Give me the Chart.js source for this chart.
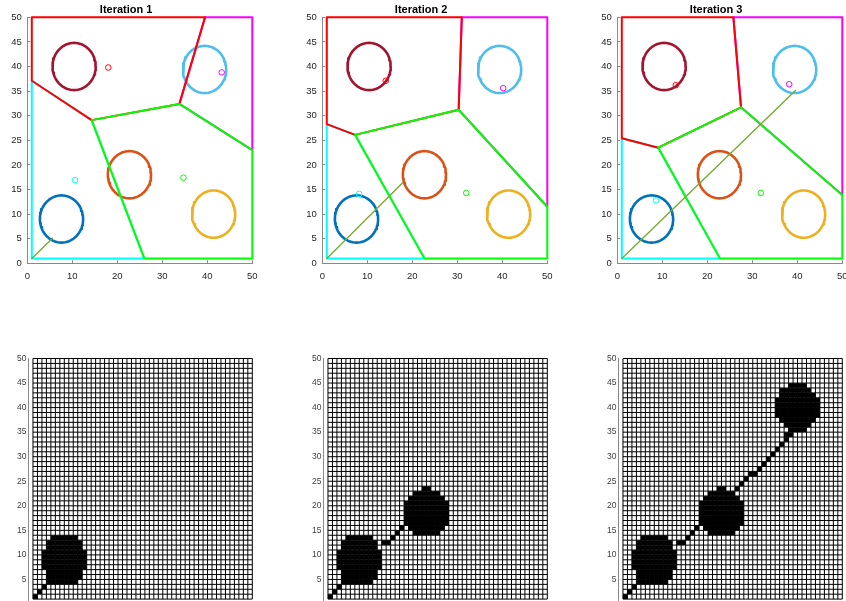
<!DOCTYPE html>
<html>
<head>
<meta charset="utf-8">
<script src="https://cdn.jsdelivr.net/npm/chart.js@4.4.1/dist/chart.umd.min.js"></script>
<style>
  html, body { margin: 0; padding: 0; background: #fff; overflow: hidden; width: 846px; height: 601px; }
  canvas { position: absolute; }
</style>
</head>
<body>
<canvas id="top0" width="280" height="290" style="left:0px;top:0px"></canvas>
<canvas id="top1" width="280" height="290" style="left:295px;top:0px"></canvas>
<canvas id="top2" width="280" height="290" style="left:590px;top:0px"></canvas>
<canvas id="map0" width="280" height="280" style="left:0px;top:340px"></canvas>
<canvas id="map1" width="280" height="280" style="left:295px;top:340px"></canvas>
<canvas id="map2" width="280" height="280" style="left:590px;top:340px"></canvas>
<script>
// ---- data ----
const iterTitles = ['Iteration 1', 'Iteration 2', 'Iteration 3'];

// obstacles (circles)
const obstacleX = [7.6, 22.7, 41.4, 10.4, 39.4];
const obstacleY = [9.0, 18.0, 10.0, 40.0, 39.4];
const obstacleR = [4.8, 4.8, 4.8, 4.8, 4.8];
const obstacleColors = ['#0072BD', '#D95319', '#EDB120', '#A2142F', '#4DBEEE'];

// region outlines per iteration
const regionCyan = [
    [[1, 1], [26, 1], [14.3, 29.1], [1, 37.1], [1, 1]],
    [[1, 1], [22.7, 1], [7.3, 26.1], [1, 28.3], [1, 1]],
    [[1, 1], [22.8, 1], [9.1, 23.5], [1, 25.4], [1, 1]]
];
const regionRed = [
    [[1, 37.1], [1, 50], [39.5, 50], [33.8, 32.4], [14.3, 29.1], [1, 37.1]],
    [[1, 28.3], [1, 50], [31, 50], [30.3, 31.2], [7.3, 26.1], [1, 28.3]],
    [[1, 25.4], [1, 50], [25.8, 50], [27.5, 31.7], [9.1, 23.5], [1, 25.4]]
];
const regionMagenta = [
    [[39.5, 50], [50, 50], [50, 23], [33.8, 32.4], [39.5, 50]],
    [[31, 50], [50, 50], [50, 11.5], [30.3, 31.2], [31, 50]],
    [[25.8, 50], [50, 50], [50, 13.9], [27.5, 31.7], [25.8, 50]]
];
const regionGreen = [
    [[14.3, 29.1], [33.8, 32.4], [50, 23], [50, 1], [26, 1], [14.3, 29.1]],
    [[7.3, 26.1], [30.3, 31.2], [50, 11.5], [50, 1], [22.7, 1], [7.3, 26.1]],
    [[9.1, 23.5], [27.5, 31.7], [50, 13.9], [50, 1], [22.8, 1], [9.1, 23.5]]
];

// centroid markers: red, magenta, cyan, green
const centroidX = [[18.0, 43.2, 10.6, 34.7], [14.1, 40.2, 8.2, 32.0], [13.0, 38.2, 8.6, 31.9]];
const centroidY = [[39.8, 38.8, 16.9, 17.4], [37.1, 35.6, 14.1, 14.3], [36.2, 36.4, 12.8, 14.3]];
const centroidColors = ['#FF0000', '#FF00FF', '#00FFFF', '#00FF00'];

// planned path
const pathStart = [1, 1];
const pathEnds = [[5.6, 5.1], [17.8, 16.3], [39.6, 35.1]];

// occupancy grid, runs of filled cells: [row, firstCol, lastCol]
const startCells = [[1, 1, 1], [2, 2, 2], [3, 3, 3], [4, 4, 4]];
const blobA = [[4, 5, 10], [5, 4, 11], [6, 4, 11], [7, 3, 12], [8, 3, 12], [9, 3, 12], [10, 3, 12], [11, 4, 11], [12, 4, 11], [13, 5, 10]];
const linkAB = [[12, 13, 14], [13, 15, 15], [14, 16, 16], [15, 17, 17]];
const blobB = [[14, 20, 25], [15, 19, 26], [16, 18, 27], [17, 18, 27], [18, 18, 27], [19, 18, 27], [20, 18, 27], [21, 19, 26], [22, 20, 25], [23, 22, 23]];
const linkBC = [[23, 26, 26], [24, 27, 27], [25, 28, 28], [26, 29, 30], [27, 31, 31], [28, 32, 32], [29, 33, 33], [30, 34, 34], [31, 35, 35], [32, 36, 36], [33, 37, 37], [34, 37, 38]];
const blobC = [[35, 38, 41], [36, 37, 42], [37, 36, 43], [38, 35, 44], [39, 35, 44], [40, 35, 44], [41, 35, 44], [42, 36, 43], [43, 36, 42], [44, 38, 41]];
const mapRuns = [
    startCells.concat(blobA),
    startCells.concat(blobA, linkAB, blobB),
    startCells.concat(blobA, linkAB, blobB, linkBC, blobC)
];

// ---- drawing ----
const FONT = '"Liberation Sans", Arial, Helvetica, sans-serif';
const AXIS = '#8a8a8a';

function pts(list) { return list.map(p => ({ x: p[0], y: p[1] })); }

function circlePts(cx, cy, r) {
    const out = [];
    for (let k = 0; k <= 72; k++) {
        const a = k / 72 * 2 * Math.PI;
        out.push({ x: cx + r * Math.cos(a), y: cy + r * Math.sin(a) });
    }
    return out;
}

function lineSet(data, color, width) {
    return { data: data, borderColor: color, borderWidth: width, showLine: true, pointRadius: 0,
             borderJoinStyle: 'round', borderCapStyle: 'round', clip: false };
}

function topChart(id, it) {
    const datasets = [];
    // markers on top
    datasets.push({
        data: centroidX[it].map((x, k) => ({ x: x, y: centroidY[it][k] })),
        pointStyle: 'circle', pointRadius: 2.8, pointBorderWidth: 1,
        pointBorderColor: centroidColors, pointBackgroundColor: 'rgba(0,0,0,0)',
        showLine: false, clip: false
    });
    datasets.push(lineSet(pts([pathStart, pathEnds[it]]), '#77AC30', 1.4));
    datasets.push(lineSet(pts(regionGreen[it]), '#00FF00', 2));
    datasets.push(lineSet(pts(regionRed[it]), '#FF0000', 2));
    datasets.push(lineSet(pts(regionMagenta[it]), '#FF00FF', 2));
    datasets.push(lineSet(pts(regionCyan[it]), '#00FFFF', 2));
    obstacleX.forEach((cx, k) => {
        datasets.push(lineSet(circlePts(cx, obstacleY[k], obstacleR[k]), obstacleColors[k], 2.6));
    });

    new Chart(document.getElementById(id), {
        type: 'scatter',
        data: { datasets: datasets },
        options: {
            responsive: false, animation: false, devicePixelRatio: 1, events: [],
            layout: { padding: { left: 0, right: 27.7, top: 0, bottom: 0 } },
            plugins: {
                legend: { display: false }, tooltip: { enabled: false },
                title: { display: true, text: iterTitles[it], color: '#000',
                         font: { family: FONT, size: 11, weight: 'bold' },
                         padding: { top: 3, bottom: 1.1 } }
            },
            scales: {
                x: {
                    type: 'linear', min: 0, max: 50,
                    afterFit: s => { s.height = 26.7; },
                    ticks: { stepSize: 10, color: '#262626', font: { family: FONT, size: 9.5 }, padding: 10, maxRotation: 0 },
                    grid: { drawOnChartArea: false, drawTicks: true, tickLength: -3, color: AXIS },
                    border: { color: AXIS, width: 1 }
                },
                y: {
                    type: 'linear', min: 0, max: 50,
                    afterFit: s => { s.width = 27.3; },
                    ticks: { stepSize: 5, color: '#262626', font: { family: FONT, size: 9.5 }, padding: 8.6 },
                    grid: { drawOnChartArea: false, drawTicks: true, tickLength: -3, color: AXIS },
                    border: { color: AXIS, width: 1 }
                }
            }
        }
    });
}

function mapChart(id, it) {
    const cells = [];
    mapRuns[it].forEach(([row, c0, c1]) => {
        for (let c = c0; c <= c1; c++) cells.push({ x: c + 0.5, y: row + 0.5 });
    });
    // grid lines along cell edges 1..50
    const grid = [];
    for (let v = 1; v <= 50; v++) {
        grid.push({ x: v, y: 1 }, { x: v, y: 50 }, { x: v, y: null });
        grid.push({ x: 1, y: v }, { x: 50, y: v }, { x: 50, y: null });
    }
    new Chart(document.getElementById(id), {
        type: 'scatter',
        data: {
            datasets: [
                { data: cells, pointStyle: 'rect', pointRadius: 3.3, pointBorderWidth: 0,
                  pointBackgroundColor: '#000', showLine: false, clip: false },
                { data: grid, borderColor: '#000', borderWidth: 1, showLine: true, pointRadius: 0,
                  spanGaps: false, clip: false }
            ]
        },
        options: {
            responsive: false, animation: false, devicePixelRatio: 1, events: [],
            layout: { padding: { left: 0, right: 27.7, top: 18.5, bottom: 16 } },
            plugins: { legend: { display: false }, tooltip: { enabled: false } },
            scales: {
                x: { type: 'linear', min: 0, max: 50, display: false },
                y: {
                    type: 'linear', min: 0, max: 50,
                    afterFit: s => { s.width = 28.5; },
                    ticks: { stepSize: 5, color: '#404040', font: { family: FONT, size: 8.5 }, padding: 2,
                             callback: v => (v === 0 ? '' : v) },
                    grid: { drawOnChartArea: false, drawTicks: false },
                    border: { color: AXIS, width: 1 }
                }
            }
        }
    });
}

[0, 1, 2].forEach(it => { topChart('top' + it, it); mapChart('map' + it, it); });
</script>
</body>
</html>
